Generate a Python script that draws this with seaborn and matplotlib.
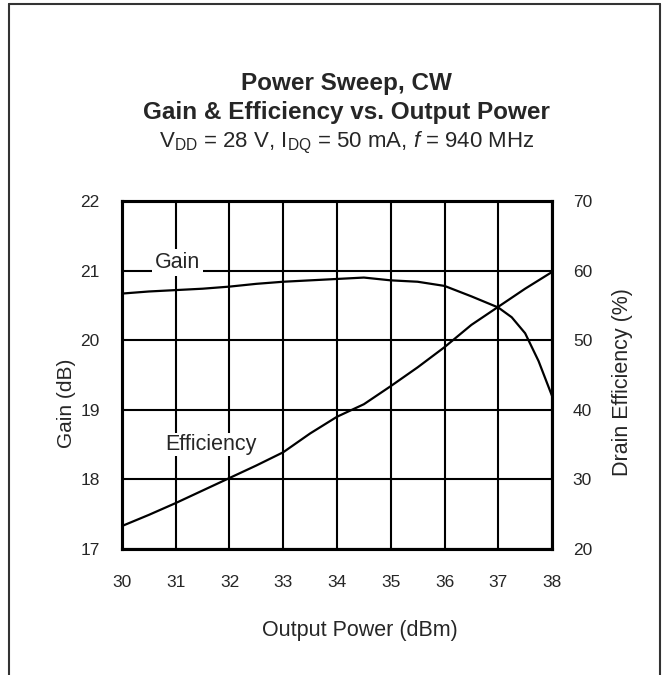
import matplotlib
matplotlib.use('Agg')
import matplotlib.pyplot as plt
import seaborn as sns
import pandas as pd
from matplotlib.lines import Line2D

# values
pout = [30, 30.5, 31, 31.5, 32, 32.5, 33, 33.5, 34, 34.5, 35, 35.5, 36, 36.5, 37, 37.25, 37.5, 37.75, 38]
gain = [20.67, 20.70, 20.72, 20.74, 20.77, 20.81, 20.84, 20.86, 20.88, 20.90, 20.86, 20.84, 20.78, 20.63,
        20.47, 20.33, 20.10, 19.70, 19.20]
pout_eff = [30, 30.5, 31, 31.5, 32, 32.5, 33, 33.5, 34, 34.5, 35, 35.5, 36, 36.5, 37, 37.5, 38]
eff = [23.3, 24.9, 26.6, 28.4, 30.2, 32.0, 33.9, 36.6, 39.0, 40.8, 43.4, 46.1, 49.0, 52.2, 54.8, 57.4, 59.8]
x_ticks = [30, 31, 32, 33, 34, 35, 36, 37, 38]
gain_ticks = [17, 18, 19, 20, 21, 22]
eff_ticks = [20, 30, 40, 50, 60, 70]

gain_df = pd.DataFrame({'Output Power': pout, 'Gain': gain})
eff_df = pd.DataFrame({'Output Power': pout_eff, 'Efficiency': eff})

sns.set_style("white")
plt.rcParams['font.family'] = ['Liberation Sans', 'DejaVu Sans']
plt.rcParams['mathtext.fontset'] = 'custom'
plt.rcParams['mathtext.rm'] = 'Liberation Sans'
plt.rcParams['mathtext.it'] = 'Liberation Sans:italic'

fig = plt.figure(figsize=(6.67, 6.75), dpi=100)
ax = fig.add_axes([0.1829, 0.1867, 0.6447, 0.5155])
ax2 = ax.twinx()

sns.lineplot(x='Output Power', y='Gain', data=gain_df, ax=ax, color='black', linewidth=1.6, zorder=5)
sns.lineplot(x='Output Power', y='Efficiency', data=eff_df, ax=ax2, color='black', linewidth=1.6, zorder=5)

ax.set_xlim(30, 38)
ax.set_ylim(17, 22)
ax2.set_ylim(20, 70)
ax.set_xticks(x_ticks)
ax.set_yticks(gain_ticks)
ax2.set_yticks(eff_ticks)
ax.grid(True, color='black', linewidth=1.5)
ax.set_axisbelow(True)

ax.tick_params(axis='x', length=0, pad=19, labelsize=12.5)
ax.tick_params(axis='y', length=0, pad=16, labelsize=12.5)
ax2.tick_params(axis='y', length=0, pad=15, labelsize=12.5)

for a in (ax, ax2):
    for s in a.spines.values():
        s.set_color('black')
        s.set_linewidth(2.2)

ax.set_xlabel('')
ax.set_ylabel('')
ax2.set_ylabel('')
fig.text(0.540, 0.0578, 'Output Power (dBm)', fontsize=15.5, ha='center', va='baseline')
fig.text(0.099, 0.403, 'Gain (dB)', fontsize=15, rotation=90, ha='center', va='center')
fig.text(0.934, 0.434, 'Drain Efficiency (%)', fontsize=15.5, rotation=90, ha='center', va='center')

ax.text(31.04, 21.12, 'Gain', fontsize=15.5, ha='center', va='center', zorder=6,
        bbox=dict(facecolor='white', edgecolor='none', pad=2))
ax.text(31.65, 18.5, 'Efficiency', fontsize=15.5, ha='center', va='center', zorder=6,
        bbox=dict(facecolor='white', edgecolor='none', pad=1))

fig.text(0.520, 0.8667, 'Power Sweep, CW', fontsize=17.5, fontweight='bold', ha='center', va='baseline')
fig.text(0.520, 0.8237, 'Gain & Efficiency vs. Output Power', fontsize=17.5, fontweight='bold',
         ha='center', va='baseline')
fig.text(0.520, 0.7822, r'V$_{\rm DD}$ = 28 V, I$_{\rm DQ}$ = 50 mA, $\mathit{f}$ = 940 MHz',
         fontsize=16, ha='center', va='baseline')

# outer frame (open at the bottom)
frame_kw = dict(color='#333333', linewidth=1.5, transform=fig.transFigure)
fig.add_artist(Line2D([0.0135, 0.0135], [0.0, 0.994], **frame_kw))
fig.add_artist(Line2D([0.9895, 0.9895], [0.0, 0.994], **frame_kw))
fig.add_artist(Line2D([0.0135, 0.9895], [0.994, 0.994], **frame_kw))

fig.savefig('out.png', dpi=100)
